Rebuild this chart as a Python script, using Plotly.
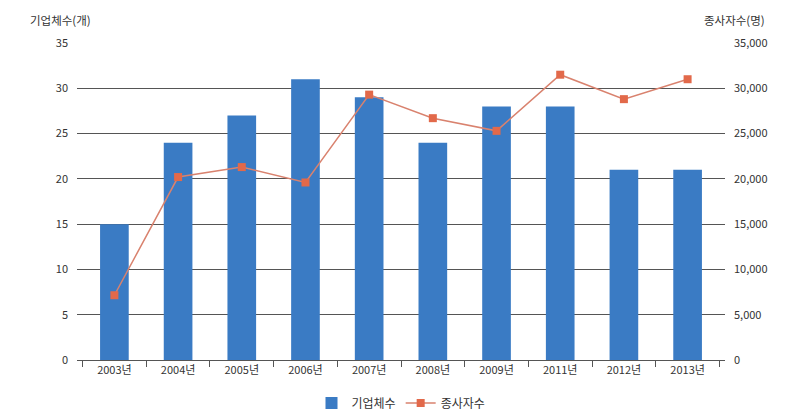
import plotly.graph_objects as go

categories = ["2003년", "2004년", "2005년", "2006년", "2007년", "2008년", "2009년", "2011년", "2012년", "2013년"]
companies = [15, 24, 27, 31, 29, 24, 28, 28, 21, 21]
employees = [7150, 20200, 21300, 19600, 29300, 26700, 25300, 31500, 28800, 31000]
left_ticks = [0, 5, 10, 15, 20, 25, 30, 35]
right_ticks = [0, 5000, 10000, 15000, 20000, 25000, 30000, 35000]

font_family = "Noto Sans CJK KR, Liberation Sans, sans-serif"

fig = go.Figure()
fig.add_trace(go.Bar(
    x=categories, y=companies, name="기업체수",
    marker=dict(color="#3A7BC4", line=dict(width=0)),
    yaxis="y",
))
fig.add_trace(go.Scatter(
    x=categories, y=employees, name="종사자수",
    mode="lines+markers",
    line=dict(color="#D9826E", width=1.5),
    marker=dict(symbol="square", size=8, color="#E2694A"),
    yaxis="y2",
))

fig.update_layout(
    width=792, height=412,
    margin=dict(l=69, r=75, t=35, b=60, autoexpand=False),
    plot_bgcolor="white", paper_bgcolor="white",
    font=dict(family=font_family, size=11, color="#333333"),
    bargap=0.55,
    showlegend=True,
    legend=dict(orientation="h", x=0.5, xanchor="center", y=-0.136, yanchor="middle",
                font=dict(size=12, color="#333333"), itemwidth=30, tracegroupgap=0),
    xaxis=dict(
        type="category", showgrid=False, showline=True, linecolor="#555555", linewidth=1,
        ticks="outside", tickson="boundaries", ticklen=6, tickcolor="#555555",
        tickfont=dict(size=11), automargin=False,
    ),
    yaxis=dict(
        range=[0, 35], tickvals=left_ticks, showgrid=True, gridcolor="#555555", gridwidth=1,
        zeroline=False, showline=False, ticks="", ticklabelstandoff=8,
        tickfont=dict(size=11), automargin=False,
    ),
    yaxis2=dict(
        range=[0, 35000], tickvals=right_ticks, tickformat=",", overlaying="y", side="right",
        showgrid=False, zeroline=False, showline=False, ticks="", ticklabelstandoff=8,
        tickfont=dict(size=11), automargin=False,
    ),
)
fig.add_annotation(text="기업체수(개)", xref="paper", yref="paper", x=0.025, y=1.0, yshift=23,
                   xanchor="right", yanchor="middle", showarrow=False, font=dict(size=11.5))
fig.add_annotation(text="종사자수(명)", xref="paper", yref="paper", x=1.065, y=1.0, yshift=23,
                   xanchor="right", yanchor="middle", showarrow=False, font=dict(size=11.5))

fig.write_html("out.html")
